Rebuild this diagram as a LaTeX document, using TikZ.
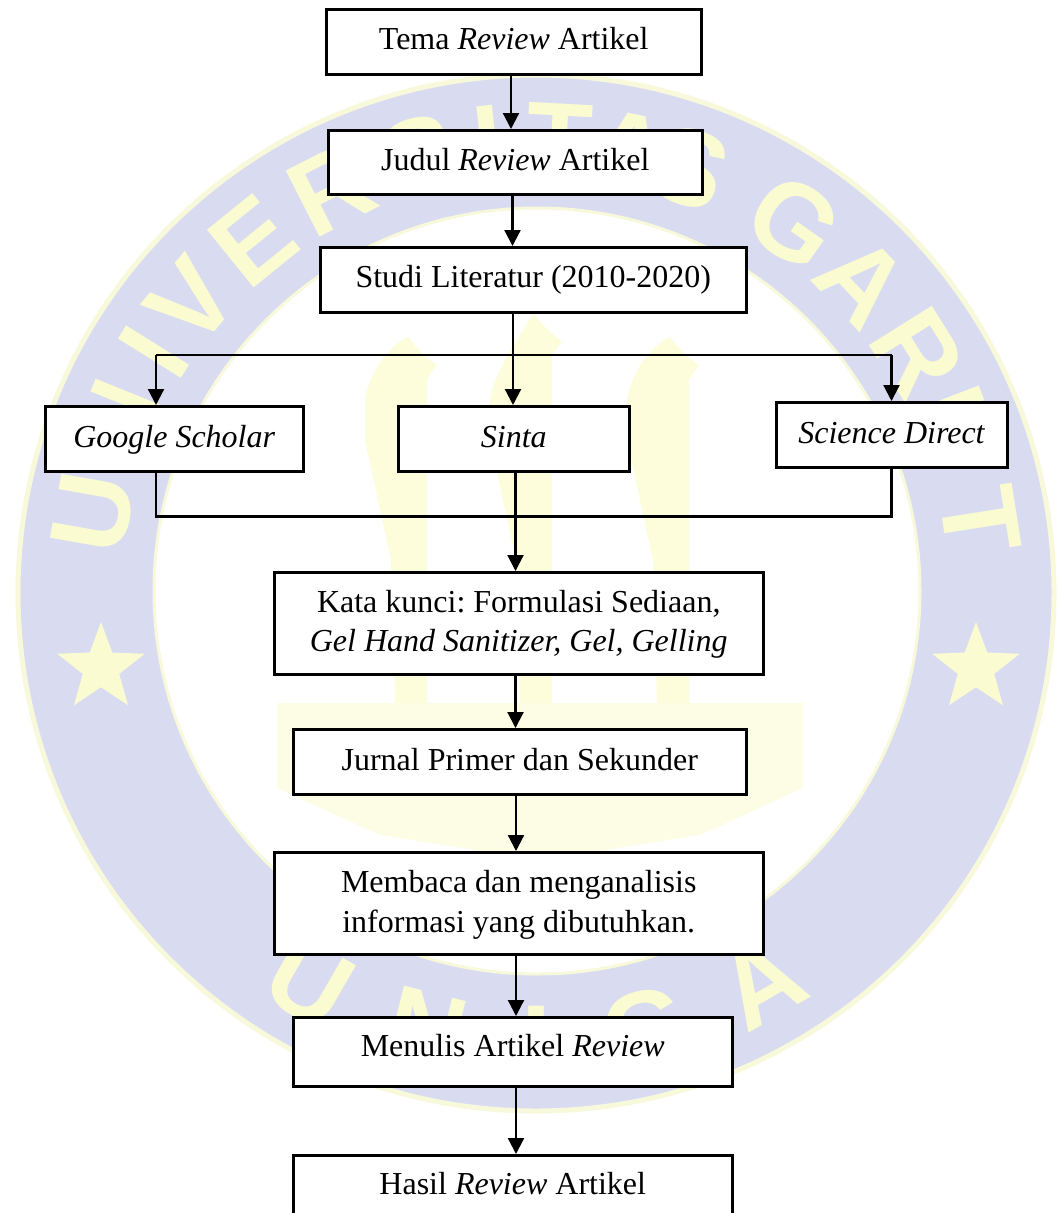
\documentclass[tikz,border=0pt]{standalone}
\usepackage{fontspec}
\setmainfont{Liberation Serif}
\newfontfamily\wmfont{Liberation Sans}
\usetikzlibrary{arrows.meta,shapes.geometric,calc}
\definecolor{ringblue}{HTML}{D9DCF0}
\definecolor{wmyellow}{HTML}{FBFBD2}
\definecolor{wmrim}{HTML}{F8F8DA}
\definecolor{wmpale}{HTML}{FDFDE6}
\definecolor{wmcol}{HTML}{FDFDDC}
\tikzset{
  x=1pt,y=-1pt,
  boxnode/.style={draw=black,fill=white,line width=2.5pt,align=center,inner sep=0pt,
    font=\fontsize{32}{39}\selectfont,anchor=north west},
  arr/.style={line width=2.2pt,-{Stealth[length=16pt,width=16pt,inset=0pt]}},
  link/.style={line width=2.2pt},
  wmletter/.style={text=wmyellow,font=\wmfont\bfseries\fontsize{108}{108}\selectfont,inner sep=0pt},
  wmstar/.style={star,star points=5,star point ratio=2.4,fill=wmyellow,inner sep=0pt,minimum size=92pt}
}
% struts that place the baseline #1 pt below the middle of the box
\newcommand{\strutone}[1]{\rule[\dimexpr-30pt+#1pt\relax]{0pt}{\dimexpr60pt\relax}}
\newcommand{\struttop}[1]{\rule{0pt}{\dimexpr30pt+#1pt\relax}}
\newcommand{\strutbot}[1]{\rule[\dimexpr-30pt+#1pt\relax]{0pt}{0pt}}
\newcommand{\bx}[6]{% name x0 y0 x1 y1 text
  \path let \n1={#4-#2},\n2={#5-#3} in node[boxnode,minimum width=\n1 pt,minimum height=\n2 pt] (#1) at (#2,#3) {#6};}
\begin{document}
\begin{tikzpicture}
\useasboundingbox (0,0) rectangle (1058,1213);
\fill[white] (0,0) rectangle (1058,1213);
% watermark
\fill[ringblue,draw=wmrim,line width=5pt] (536,593) circle[radius=518];
\fill[white,draw=wmrim,line width=3pt] (537,591) circle[radius=383];
\foreach \l/\a in {U/170,N/158,I/148,V/140,E/129,R/117,S/105,I/96,T/87,A/78,S/70,G/55,A/43.5,R/32,U/21,T/9}{
  \node[wmletter,rotate=\a-90] at ($(536,591)+(\a:450 and -450)$) {\l};
}
\foreach \l/\a in {U/240,N/256,I/270,G/284,A/300}{
  \node[wmletter,rotate=\a-270] at ($(536,591)+(\a:452 and -452)$) {\l};
}
\node[wmstar] (starL) at (101,668) {};
\node[wmstar] (starR) at (976,668) {};
\fill[wmpale] (277,703) -- (803,703) -- (803,788) -- (700,835) -- (540,860) -- (380,835) -- (277,788) -- cycle;
\foreach \xo/\t in {365/337,490/313,627/337}{
  \fill[wmcol] (\xo+30,703) -- (\xo+26,560) -- (\xo,440) -- (\xo,400)
    .. controls (\xo+5,370) and (\xo+25,345) .. (\xo+43,\t)
    .. controls (\xo+52,\t+12) and (\xo+62,\t+22) .. (\xo+72,\t+28)
    -- (\xo+62,\t+42) -- (\xo+62,703) -- cycle;
}
% boxes
\bx{tema}{325}{8}{700}{73}{\strutone{8}Tema \textit{Review} Artikel}
\bx{judul}{327}{129}{701}{193}{\strutone{8}Judul \textit{Review} Artikel}
\bx{studi}{319}{246}{745}{311}{\strutone{7.5}Studi Literatur (2010-2020)}
\bx{google}{44}{405}{302}{470}{\strutone{8.5}\textit{Google Scholar}}
\bx{sinta}{397}{405}{628}{470}{\strutone{8.5}\textit{Sinta}}
\bx{direct}{775}{401}{1006}{466}{\strutone{8.5}\textit{Science Direct}}
\bx{kata}{273}{571}{762}{673}{\struttop{9}{\frenchspacing Kata kunci: Formulasi Sediaan,}\\\strutbot{9}\textit{Gel Hand Sanitizer, Gel, Gelling}}
\bx{jurnal}{292}{728}{745}{793}{\strutone{8.5}Jurnal Primer dan Sekunder}
\bx{baca}{273}{851}{762}{953}{\struttop{9}Membaca dan menganalisis\\[1pt]\strutbot{9}informasi yang dibutuhkan.}
\bx{tulis}{292}{1016}{731}{1085}{\strutone{5}Menulis Artikel \textit{Review}}
\bx{hasil}{292}{1154}{731}{1225}{\strutone{4}Hasil \textit{Review} Artikel}
% connector guides
\coordinate (a1) at (511,0);
\coordinate (a2) at (512.5,0);
\coordinate (a3) at (513,0);
\coordinate (a4) at (515.5,0);
\coordinate (a5) at (516,0);
\coordinate (bl) at (156,0);
\coordinate (br) at (891.5,0);
\coordinate (yt) at (0,355);
\coordinate (yb) at (0,516.5);
\draw[arr] (a1 |- tema.south) -- (a1 |- judul.north);
\draw[arr] (a2 |- judul.south) -- (a2 |- studi.north);
\draw[arr] (a3 |- studi.south) -- (a3 |- sinta.north);
\draw[link] (bl |- yt) -- (br |- yt);
\draw[arr] (bl |- yt) -- (bl |- google.north);
\draw[arr] (br |- yt) -- (br |- direct.north);
\draw[link] (bl |- google.south) -- (bl |- yb) -- (br |- yb) -- (br |- direct.south);
\draw[arr] (a4 |- sinta.south) -- (a4 |- kata.north);
\draw[arr] (a4 |- kata.south) -- (a4 |- jurnal.north);
\draw[arr] (a5 |- jurnal.south) -- (a5 |- baca.north);
\draw[arr] (a5 |- baca.south) -- (a5 |- tulis.north);
\draw[arr] (a5 |- tulis.south) -- (a5 |- hasil.north);
\end{tikzpicture}
\end{document}
